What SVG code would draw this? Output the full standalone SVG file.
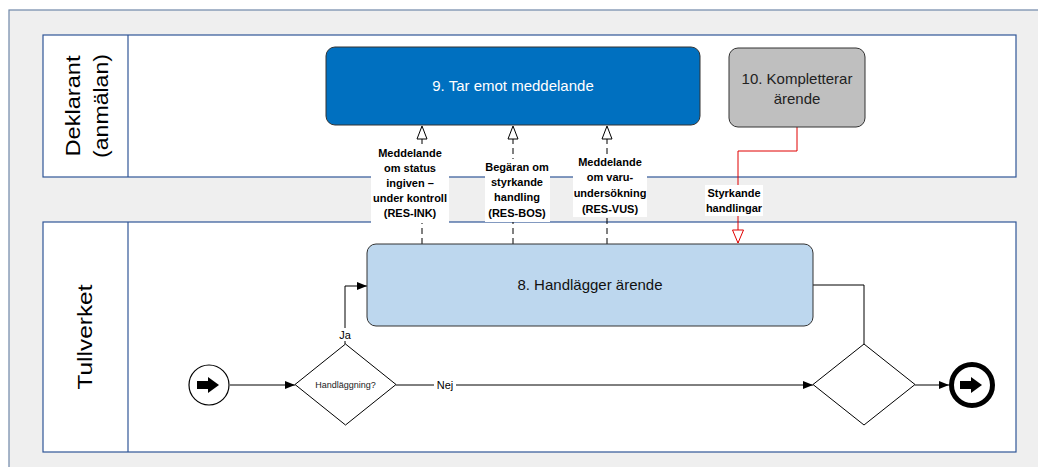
<svg xmlns="http://www.w3.org/2000/svg" width="1038" height="467" viewBox="0 0 1038 467">
<defs>
<style>
.lane{fill:#fff;stroke:#2F5597;stroke-width:1.2}
.lanelbl{font-family:"Liberation Sans",Arial,sans-serif;font-size:21px;fill:#000}
.task{stroke:#333;stroke-width:1}
.ttl{font-family:"Liberation Sans",Arial,sans-serif;font-size:15px;text-anchor:middle}
.lbl{font-family:"Liberation Sans",Arial,sans-serif;font-size:11px;font-weight:bold;text-anchor:middle;fill:#000}
.small{font-family:"Liberation Sans",Arial,sans-serif;font-size:11px;text-anchor:middle;fill:#000}
.flow{fill:none;stroke:#000;stroke-width:1}
.msg{fill:none;stroke:#000;stroke-width:1;stroke-dasharray:6 4}
.bg{fill:#fff}
</style>
<marker id="arr" viewBox="0 0 10 8" refX="10" refY="4" markerWidth="10" markerHeight="8" markerUnits="userSpaceOnUse" orient="auto"><path d="M0,0 L10,4 L0,8 Z" fill="#000"/></marker>
<marker id="hollow" viewBox="0 0 15 12" refX="14" refY="6" markerWidth="15" markerHeight="12" markerUnits="userSpaceOnUse" orient="auto"><path d="M1,1 L14,6 L1,11 Z" fill="#fff" stroke="#000" stroke-width="1"/></marker>
<marker id="hollowred" viewBox="0 0 15 13" refX="14" refY="6.5" markerWidth="15" markerHeight="13" markerUnits="userSpaceOnUse" orient="auto"><path d="M1,1 L14,6.5 L1,12 Z" fill="#fff" stroke="#E00000" stroke-width="1"/></marker>
</defs>
<rect x="0" y="0" width="1038" height="467" fill="#fff"/>
<rect x="9" y="10" width="1040" height="470" fill="#EFEFEF" stroke="#6F87A8" stroke-width="1.2"/>

<g id="lane-deklarant">
<rect class="lane" x="43" y="35" width="973" height="142"/>
<line x1="128" y1="35" x2="128" y2="177" stroke="#2F5597" stroke-width="1.2"/>
<text class="lanelbl" transform="translate(80,106) rotate(-90)" text-anchor="middle" textLength="101" lengthAdjust="spacingAndGlyphs">Deklarant</text>
<text class="lanelbl" transform="translate(108,106) rotate(-90)" text-anchor="middle" textLength="104" lengthAdjust="spacingAndGlyphs">(anmälan)</text>
</g>
<g id="lane-tullverket">
<rect class="lane" x="43" y="222" width="973" height="230"/>
<line x1="128" y1="222" x2="128" y2="452" stroke="#2F5597" stroke-width="1.2"/>
<text class="lanelbl" transform="translate(92,337) rotate(-90)" text-anchor="middle" textLength="105" lengthAdjust="spacingAndGlyphs">Tullverket</text>
</g>

<g id="connectors">
<path class="msg" d="M422,244 V126" marker-end="url(#hollow)"/>
<path class="msg" d="M513,244 V126" marker-end="url(#hollow)"/>
<path class="msg" d="M607,244 V126" marker-end="url(#hollow)"/>
<path d="M797,127 V151 H738 V243" fill="none" stroke="#E00000" stroke-width="1" marker-end="url(#hollowred)"/>
<path class="flow" d="M230,385 H295" marker-end="url(#arr)"/>
<path class="flow" d="M345,344 V286 H367" marker-end="url(#arr)"/>
<path class="flow" d="M396,385 H813" marker-end="url(#arr)"/>
<path class="flow" d="M813,285 H864 V344"/>
<path class="flow" d="M915,385 H949" marker-end="url(#arr)"/>

<rect class="bg" x="371" y="145" width="78" height="78"/>
<text class="lbl" x="410" y="157">Meddelande</text>
<text class="lbl" x="410" y="172">om status</text>
<text class="lbl" x="410" y="187">ingiven –</text>
<text class="lbl" x="410" y="202">under kontroll</text>
<text class="lbl" x="410" y="217">(RES-INK)</text>

<rect class="bg" x="485" y="159" width="65" height="63"/>
<text class="lbl" x="517" y="171">Begäran om</text>
<text class="lbl" x="517" y="186">styrkande</text>
<text class="lbl" x="517" y="201">handling</text>
<text class="lbl" x="517" y="217">(RES-BOS)</text>

<rect class="bg" x="573" y="154" width="74" height="63"/>
<text class="lbl" x="610" y="166">Meddelande</text>
<text class="lbl" x="610" y="181">om varu-</text>
<text class="lbl" x="610" y="197">undersökning</text>
<text class="lbl" x="610" y="213">(RES-VUS)</text>

<rect class="bg" x="705" y="185" width="58" height="31"/>
<text class="lbl" x="734" y="197">Styrkande</text>
<text class="lbl" x="734" y="212">handlingar</text>

<rect class="bg" x="337" y="328" width="16" height="13"/>
<text class="small" x="345" y="339">Ja</text>
<rect class="bg" x="434" y="378" width="22" height="13"/>
<text class="small" x="445" y="389">Nej</text>
</g>

<g id="node9">
<rect class="task" x="326" y="47" width="374" height="78" rx="9" fill="#0070C0"/>
<text class="ttl" x="513" y="91" fill="#fff">9. Tar emot meddelande</text>
</g>
<g id="node10">
<rect class="task" x="729" y="48" width="136" height="79" rx="9" fill="#BFBFBF"/>
<text class="ttl" x="797" y="84" fill="#222">10. Kompletterar</text>
<text class="ttl" x="797" y="104" fill="#222">ärende</text>
</g>
<g id="node8">
<rect class="task" x="367" y="244" width="446" height="82" rx="9" fill="#BDD7EE"/>
<text class="ttl" x="590" y="290" fill="#111">8. Handlägger ärende</text>
</g>
<g id="start">
<circle cx="209" cy="385" r="20" fill="#fff" stroke="#000" stroke-width="1.2"/>
<path d="M197,381 H208 V377 L219,385 L208,393 V389 H197 Z" fill="#000"/>
</g>
<g id="gw1">
<path d="M295,384.5 L345.5,344 L396,384.5 L345.5,425 Z" fill="#fff" stroke="#000" stroke-width="1"/>
<text x="345.5" y="388" font-family="'Liberation Sans',Arial,sans-serif" font-size="9" text-anchor="middle" fill="#222">Handläggning?</text>
</g>
<g id="gw2">
<path d="M813,384.5 L864,344 L915,384.5 L864,425 Z" fill="#fff" stroke="#000" stroke-width="1"/>
</g>
<g id="end">
<circle cx="972" cy="385" r="20.5" fill="#fff" stroke="#000" stroke-width="5"/>
<path d="M960,381 H971 V377 L982,385 L971,393 V389 H960 Z" fill="#000"/>
</g>
</svg>
